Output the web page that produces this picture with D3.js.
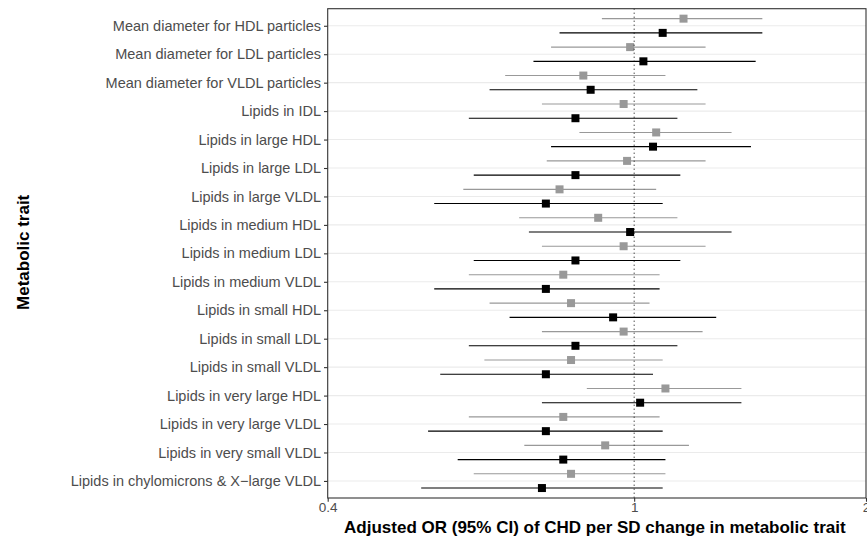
<!DOCTYPE html>
<html><head><meta charset="utf-8">
<script src="https://cdn.jsdelivr.net/npm/d3@7"></script>
<style>body{margin:0;background:#fff}svg{display:block}text{font-family:"Liberation Sans",Arial,Helvetica,sans-serif}</style>
</head><body><svg id="c" width="867" height="537"></svg>
<script>
const categories = ["Mean diameter for HDL particles","Mean diameter for LDL particles","Mean diameter for VLDL particles","Lipids in IDL","Lipids in large HDL","Lipids in large LDL","Lipids in large VLDL","Lipids in medium HDL","Lipids in medium LDL","Lipids in medium VLDL","Lipids in small HDL","Lipids in small LDL","Lipids in small VLDL","Lipids in very large HDL","Lipids in very large VLDL","Lipids in very small VLDL","Lipids in chylomicrons & X\u2212large VLDL"];
// gray series (upper)
const grayOR = [1.159,0.988,0.859,0.969,1.068,0.979,0.800,0.898,0.969,0.809,0.828,0.969,0.828,1.098,0.809,0.917,0.828];
const grayLo = [0.908,0.780,0.680,0.759,0.849,0.770,0.600,0.709,0.759,0.610,0.649,0.759,0.639,0.868,0.610,0.720,0.619];
const grayHi = [1.467,1.238,1.098,1.238,1.338,1.238,1.068,1.138,1.238,1.079,1.047,1.227,1.089,1.378,1.079,1.178,1.098];
// black series (lower)
const blackOR = [1.089,1.028,0.878,0.839,1.058,0.839,0.768,0.988,0.839,0.768,0.939,0.839,0.768,1.018,0.768,0.809,0.759];
const blackLo = [0.800,0.740,0.649,0.610,0.780,0.619,0.550,0.730,0.619,0.550,0.689,0.610,0.560,0.759,0.540,0.590,0.529];
const blackHi = [1.467,1.438,1.208,1.138,1.418,1.148,1.089,1.338,1.148,1.079,1.278,1.138,1.058,1.378,1.089,1.098,1.089];
const xTicks = [0.4, 1, 2];
const xTitle = "Adjusted OR (95% CI) of CHD per SD change in metabolic trait";
const yTitle = "Metabolic trait";

const svg = d3.select("#c");
const L = 327.7, R = 866, T = 8.7, B = 498;
const x = d3.scaleLog().domain([0.4, 2]).range([L, R]);
const y = d3.scalePoint().domain(categories).range([T, B]).padding(0.6);
const off = y.step() * 0.25;

// gridlines
svg.append("g").selectAll("line").data(categories).join("line")
  .attr("x1", L).attr("x2", R).attr("y1", d => y(d)).attr("y2", d => y(d))
  .attr("stroke", "#ebebeb").attr("stroke-width", 1.1);

const series = [
  {or: grayOR, lo: grayLo, hi: grayHi, color: "#999999", dy: -off},
  {or: blackOR, lo: blackLo, hi: blackHi, color: "#000000", dy: off}
];
series.forEach(s => {
  const data = categories.map((c, i) => ({c, or: s.or[i], lo: s.lo[i], hi: s.hi[i]}));
  const g = svg.append("g");
  g.selectAll("line").data(data).join("line")
    .attr("x1", d => x(d.lo)).attr("x2", d => x(d.hi))
    .attr("y1", d => y(d.c) + s.dy).attr("y2", d => y(d.c) + s.dy)
    .attr("stroke", s.color).attr("stroke-width", 1.1);
  g.selectAll("rect").data(data).join("rect")
    .attr("x", d => x(d.or) - 4).attr("y", d => y(d.c) + s.dy - 4)
    .attr("width", 8).attr("height", 8).attr("fill", s.color);
});

// reference line at 1
svg.append("line").attr("x1", x(1)).attr("x2", x(1)).attr("y1", T).attr("y2", B)
  .attr("stroke", "#000").attr("stroke-width", 1).attr("stroke-dasharray", "1,3");

// panel border
svg.append("rect").attr("x", L).attr("y", T).attr("width", R - L).attr("height", B - T)
  .attr("fill", "none").attr("stroke", "#333333").attr("stroke-width", 1.1);

// y axis
const ya = svg.append("g").attr("transform", `translate(${L},0)`)
  .call(d3.axisLeft(y).tickSize(3.7).tickPadding(3));
ya.select(".domain").remove();
ya.selectAll(".tick line").attr("stroke", "#333333").attr("stroke-width", 1.1);
ya.selectAll(".tick text").attr("fill", "#4d4d4d").style("font-size", "14.5px")
  .style("font-family", '"Liberation Sans",Arial,sans-serif');

// x axis
const xa = svg.append("g").attr("transform", `translate(0,${B})`)
  .call(d3.axisBottom(x).tickValues(xTicks).tickFormat(d3.format("")).tickSize(3.7).tickPadding(1));
xa.select(".domain").remove();
xa.selectAll(".tick line").attr("stroke", "#333333").attr("stroke-width", 1.1);
xa.selectAll(".tick text").attr("fill", "#4d4d4d").style("font-size", "13.5px")
  .style("font-family", '"Liberation Sans",Arial,sans-serif');

// titles
svg.append("text").attr("x", (L + R) / 2 - 2).attr("y", 532.5).attr("text-anchor", "middle")
  .style("font-size", "17px").style("font-weight", "bold").attr("fill", "#000").text(xTitle);
svg.append("text").attr("transform", `translate(28.5,${(T + B) / 2 - 1}) rotate(-90)`)
  .attr("text-anchor", "middle").style("font-size", "17px").style("font-weight", "bold")
  .attr("fill", "#000").text(yTitle);
</script></body></html>
